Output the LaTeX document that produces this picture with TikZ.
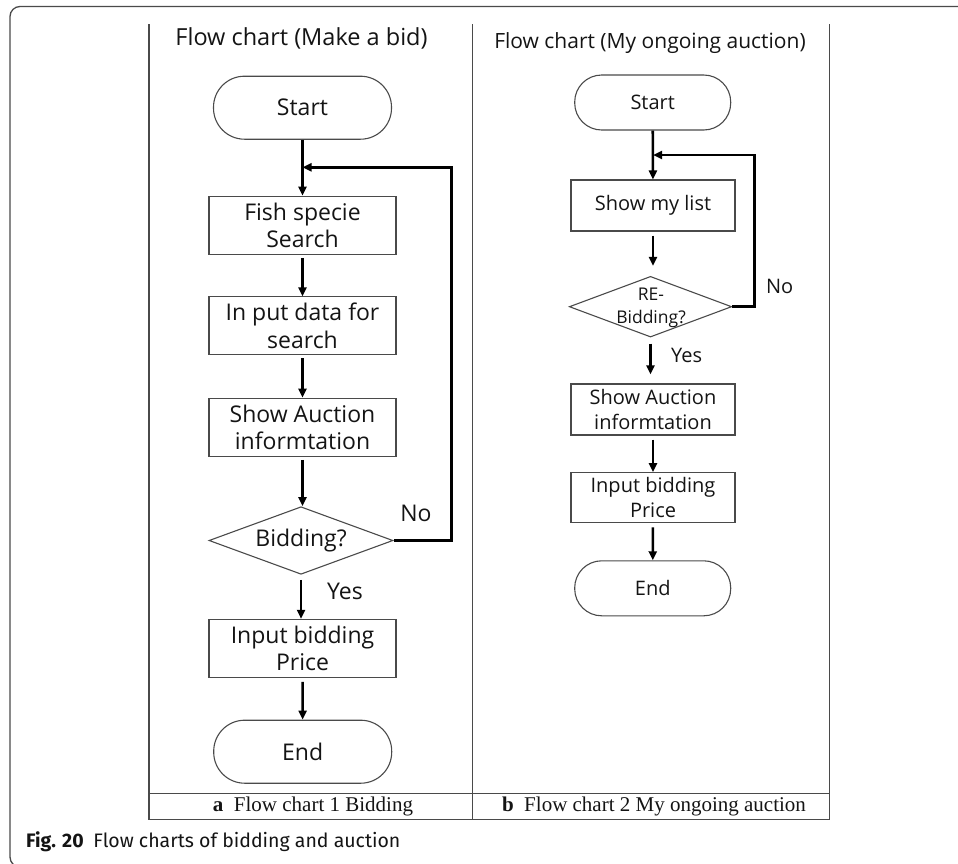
\documentclass[tikz,border=0pt]{standalone}
\usepackage{fontspec}
\setmainfont{Liberation Serif}
\newfontfamily\chartfont{Open Sans}
\newfontfamily\capfont{Fira Sans}
\usetikzlibrary{arrows.meta,shapes.geometric}
\definecolor{boxgray}{HTML}{4A4A4A}
\definecolor{txt}{HTML}{141414}
\tikzset{
  boxL/.style={draw=boxgray, line width=1.1pt, rectangle, minimum width=187pt, minimum height=58pt, inner sep=0pt, align=center, text=txt, font=\chartfont\fontsize{23}{27.5}\selectfont},
  termL/.style={boxL, rounded corners=31pt, minimum width=178pt, minimum height=63pt},
  boxR/.style={draw=boxgray, line width=1.1pt, rectangle, minimum width=164pt, minimum height=51pt, inner sep=0pt, align=center, text=txt, font=\chartfont\fontsize{20}{24.5}\selectfont},
  termR/.style={boxR, rounded corners=27pt, minimum width=156pt, minimum height=55pt},
  dia/.style={draw=boxgray, line width=1.1pt, diamond, inner sep=0pt},
  flow/.style={draw=black, line width=2.6pt, -{Triangle[length=9pt,width=8pt]}},
  lbl/.style={text=txt, inner sep=0pt},
  tbl/.style={draw=boxgray, line width=1.1pt},
}
\begin{document}
\begin{tikzpicture}[x=1pt,y=-1pt]
\useasboundingbox (0,0) rectangle (958,863);
\begin{scope}
\clip (0,0) rectangle (958,863);
\draw[draw=boxgray, line width=1.3pt, rounded corners=10pt] (1100,6.5) -- (10,6.5) -- (10,867) -- (1100,867);
\end{scope}
% table
\draw[tbl] (149,24) -- (149,819.3) -- (829.7,819.3) -- (829.7,24);
\draw[tbl] (472.5,24) -- (472.5,819.3);
\draw[tbl] (149,793.3) -- (829.7,793.3);
% headings
\node[lbl, font=\chartfont\fontsize{23.5}{27}\selectfont] (head1) at (301.5,38) {Flow chart (Make a bid)};
\node[lbl, font=\chartfont\fontsize{21}{26}\selectfont] (head2) at (650,43) {Flow chart (My ongoing auction)};
% left chart
\node[termL] (start1) at (302.5,107.7) {Start};
\node[boxL] (fish) at (302.5,225.2) {Fish specie\\Search};
\node[boxL] (input1) at (302.5,325.9) {In put data for\\search};
\node[boxL] (show1) at (302.5,427.2) {Show Auction\\informtation};
\node[dia, minimum width=184pt, minimum height=67.6pt] (bid1) at (301,540.5) {};
\node[lbl, font=\chartfont\fontsize{23}{27.5}\selectfont] (bid1t) at (bid1.center) {Bidding?};
\node[boxL] (price1) at (302.5,648.3) {Input bidding\\Price};
\node[termL] (end1) at (302.7,751.7) {End};
\coordinate (j1) at (302.5,167.3);
\coordinate (r1) at (451.7,167.3);
\draw[flow] (start1) -- (fish);
\draw[flow, shorten <=3pt] (fish) -- (input1);
\draw[flow, shorten <=3pt] (input1) -- (show1);
\draw[flow, shorten <=3pt] (show1) -- (bid1.north -| show1.south);
\draw[flow, shorten <=5pt] (bid1.south) -- (price1.north -| bid1.south);
\draw[flow, shorten <=4pt] (price1) -- (end1);
\draw[flow] (bid1.east) -| (r1) -- (j1);
\node[lbl, font=\chartfont\fontsize{23}{27}\selectfont] (no1) at (416,513) {No};
\node[lbl, font=\chartfont\fontsize{23}{27}\selectfont] (yes1) at (345,591.7) {Yes};
% right chart
\node[termR] (start2) at (652.7,102.5) {Start};
\node[boxR] (list2) at (653,205.5) {Show my list};
\node[dia, minimum width=162.4pt, minimum height=60.7pt] (re2) at (650.5,306.7) {};
\node[lbl, align=center, font=\chartfont\fontsize{17.5}{22.6}\selectfont] (re2t) at (651,308) {RE-\\Bidding?};
\node[boxR] (show2) at (653,409.5) {Show Auction\\informtation};
\node[boxR, minimum height=50pt] (price2) at (653,497.7) {Input bidding\\Price};
\node[termR] (end2) at (652.7,588.3) {End};
\coordinate (j2) at (653,155);
\coordinate (r2) at (754.3,155);
\draw[flow] (start2) -- (list2);
\draw[flow, shorten <=4pt, shorten >=10pt] (list2) -- (re2.north -| list2.south);
\draw[flow, shorten <=6pt, shorten >=9pt] (re2.south) -- (show2.north -| re2.south);
\draw[flow, shorten <=4pt] (show2) -- (price2);
\draw[flow, shorten <=4pt] (price2) -- (end2);
\draw[flow] (re2.east) -| (r2) -- (j2);
\node[lbl, font=\chartfont\fontsize{20}{24}\selectfont] (no2) at (779.7,286.7) {No};
\node[lbl, font=\chartfont\fontsize{20}{24}\selectfont] (yes2) at (686.7,355) {Yes};
% captions
\node[lbl, font=\fontsize{21}{24}\selectfont] (capa) at (313,806.2) {\textbf{a}\enspace Flow chart 1 Bidding};
\node[lbl, font=\fontsize{21}{24}\selectfont] (capb) at (654,806.2) {\textbf{b}\enspace Flow chart 2 My ongoing auction};
\node[lbl, anchor=west, font=\capfont\fontsize{19.5}{23}\selectfont] (fig) at (26,841.7) {\textbf{Fig. 20}\enspace Flow charts of bidding and auction};
\end{tikzpicture}
\end{document}
